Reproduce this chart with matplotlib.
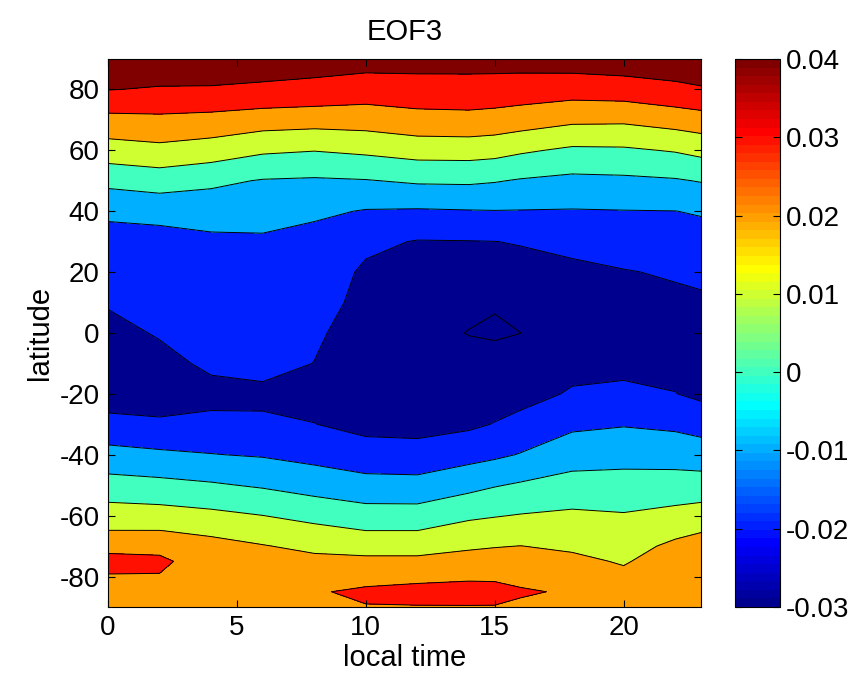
import matplotlib
matplotlib.use("Agg")
import matplotlib.pyplot as plt
import numpy as np
from matplotlib.colors import ListedColormap, Normalize
from matplotlib.cm import ScalarMappable

plt.rcParams["font.family"] = ["Liberation Sans", "DejaVu Sans"]
plt.rcParams["axes.unicode_minus"] = False

# EOF3 field (units of 1e-3)
local_time = [0, 2, 4, 6, 8, 10, 12, 14, 15, 16, 18, 20, 22, 23]
latitude = [-90, -85, -80, -75, -70, -65, -60, -50, -40, -30, -20,
            -10, 0, 10, 20, 30, 40, 50, 60, 70, 80, 90]

eof3_milli = [
    [26, 26, 26.5, 26.5, 27.5, 29.5, 29.6, 29.6, 29.6, 28.5, 28, 27, 27, 26.5],
    [27.5, 27.5, 27.5, 27, 29, 32, 33, 33.5, 33, 31, 29, 26, 27, 26.5],
    [29.4, 29.6, 27, 26, 25, 26, 27.5, 28.5, 28.5, 27.5, 25.5, 22, 26, 26],
    [33, 31.5, 26, 24, 22.5, 22.2, 22.2, 23, 23.5, 24, 22, 19.2, 24.5, 25.5],
    [27.2, 27.75, 23, 20.5, 17.7, 16.1, 16.1, 18.9, 19.6, 20.1, 18.6, 16.4, 22, 24],
    [20.2, 20.2, 18.2, 15.3, 12.6, 10.1, 10.1, 13.7, 14.5, 15, 15.2, 13.5, 17.6, 19.5],
    [14.7, 14.1, 12.4, 10.1, 7.1, 4.4, 4.4, 8.3, 9.5, 10.5, 11.7, 10.7, 12.9, 14.4],
    [4.0, 2.8, 1.1, -1.1, -4.1, -6.7, -7.0, -2.9, -0.6, 1.1, 3.75, 3.8, 4.2, 4.3],
    [-6.8, -8.3, -9.7, -10.8, -13.0, -15.4, -15.8, -13.3, -11.7, -9.5, -4.4, -3.4, -4.0, -5.0],
    [-16.7, -18.1, -17.1, -17.7, -19.8, -23.1, -23.7, -21.7, -19.6, -17.0, -11.9, -10.6, -11.9, -13.7],
    [-25.5, -26, -23.5, -23, -23.5, -27, -27.5, -26, -24.5, -23.5, -19, -18, -19.8, -22],
    [-26, -23.5, -17.8, -15.5, -20.2, -27.5, -28.5, -28, -27, -26, -23, -22.5, -22.5, -23],
    [-23.5, -19, -17.5, -15.5, -18, -26, -28, -30.2, -31, -30.05, -26, -24, -23.5, -23],
    [-19, -17.5, -16.5, -15, -14.5, -24, -26.5, -28.5, -29.4, -27, -25, -23, -22, -21.5],
    [-17, -16, -14.5, -13.5, -14.5, -21.5, -24, -25, -25, -23, -22.5, -20.5, -19, -17.9],
    [-14.5, -14, -12, -11.5, -13.5, -18, -20.5, -20.3, -20.1, -19.5, -16.9, -15.4, -14.3, -13.8],
    [-7.7, -6.5, -5.7, -6.1, -8.2, -10.6, -11.0, -10.5, -10.3, -10.4, -10.6, -10.3, -10.1, -9.2],
    [2.6, 4.5, 2.0, -0.6, -1.2, -0.5, 1.25, 1.5, 0.6, -0.8, -2.4, -1.9, -0.9, 0.5],
    [15.6, 17.4, 15.3, 11.5, 10.3, 11.9, 14.1, 14.3, 13.5, 11.4, 8.3, 8.6, 10.7, 12.8],
    [27.1, 27.8, 26.8, 24.8, 24.0, 24.5, 26.7, 27.2, 26.4, 25, 22, 21.7, 24.3, 25.8],
    [40.2, 39.4, 39.3, 38.5, 37.5, 35.2, 35.8, 35.9, 35.7, 35.3, 34.3, 35.2, 37.8, 39.2],
    [45, 45, 45, 44.5, 44, 44, 44, 44, 44, 44, 45, 46, 46, 46],
]

contour_levels = [-0.03, -0.02, -0.01, 0.0, 0.01, 0.02, 0.03, 0.04]
cbar_ticks = [-0.03, -0.02, -0.01, 0.0, 0.01, 0.02, 0.03, 0.04]
clim = (-0.03, 0.04)


def matlab_jet(n=64):
    m = int(np.ceil(n / 4))
    u = np.concatenate([np.arange(1, m + 1) / m, np.ones(m - 1), np.arange(m, 0, -1) / m])
    g = int(np.ceil(m / 2)) - (1 if n % 4 == 1 else 0) + np.arange(1, len(u) + 1)
    r = g + m
    b = g - m
    jet = np.zeros((n, 3))
    jet[r[r <= n] - 1, 0] = u[r <= n]
    jet[g[g <= n] - 1, 1] = u[g <= n]
    jet[b[b >= 1] - 1, 2] = u[b >= 1]
    return jet


jet64 = matlab_jet(64)


def band_color(value):
    idx = int(np.floor((value - clim[0]) / (clim[1] - clim[0]) * 64 + 1e-9))
    return jet64[min(max(idx, 0), 63)]


Z = np.array(eof3_milli) * 1e-3
fill_levels = [-1.0] + contour_levels + [1.0]
fill_colors = [band_color(contour_levels[0])] + [band_color(v) for v in contour_levels]

fig = plt.figure(figsize=(8.59, 6.83), dpi=100)
ax = fig.add_axes([0.1257, 0.1113, 0.6904, 0.8023])
cax = fig.add_axes([0.8557, 0.1113, 0.0524, 0.8023])

ax.contourf(local_time, latitude, Z, levels=fill_levels, colors=fill_colors)
ax.contour(local_time, latitude, Z, levels=contour_levels, colors="k",
           linewidths=0.7, linestyles="solid", negative_linestyles="solid")

ax.set_xlim(0, 23)
ax.set_ylim(-90, 90)
ax.set_xticks([0, 5, 10, 15, 20])
ax.set_yticks(np.arange(-80, 81, 20))
ax.tick_params(direction="in", length=5, width=0.8, top=True, right=True,
               labelsize=20, pad=6)
ax.set_xlabel("local time", fontsize=21, labelpad=2)
ax.set_ylabel("latitude", fontsize=21, labelpad=4)
ax.set_title("EOF3", fontsize=21, pad=14)
for spine in ax.spines.values():
    spine.set_linewidth(0.8)

sm = ScalarMappable(norm=Normalize(*clim), cmap=ListedColormap(jet64))
cbar = fig.colorbar(sm, cax=cax, ticks=cbar_ticks)
cbar.ax.set_yticklabels(["0" if abs(v) < 1e-12 else f"{v:.2f}" for v in cbar_ticks])
cbar.ax.tick_params(direction="in", length=5, width=0.8, left=True, right=True,
                    labelsize=20, pad=4)
cbar.outline.set_linewidth(0.8)

fig.savefig("out.png", dpi=100, facecolor="white")
plt.close(fig)
